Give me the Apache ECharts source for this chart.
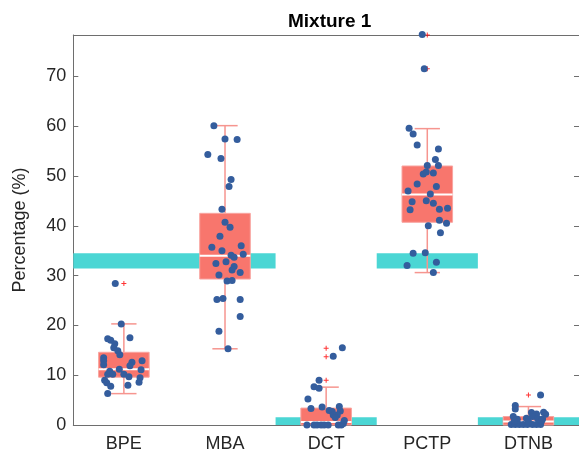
<!DOCTYPE html>
<html>
<head>
<meta charset="utf-8">
<title>Mixture 1</title>
<style>
html, body { margin: 0; padding: 0; background: #fff; }
#container { width: 579px; height: 462px; }
</style>
</head>
<body>
<div id="container"></div>
<script src="https://cdn.jsdelivr.net/npm/echarts@6/dist/echarts.min.js"></script>
<script type="text/javascript">

var categories = ['BPE', 'MBA', 'DCT', 'PCTP', 'DTNB'];

// box stats per category: [x, min, q1, median, q3, max]
var boxStats = [
  [1, 6.3, 9.6, 11.2, 14.6, 20.3],
  [2, 15.3, 29.3, 34.0, 42.5, 60.1],
  [3, 0, 0, 0.6, 3.4, 7.6],
  [4, 30.6, 40.7, 46.3, 52.0, 59.5],
  [5, 0, 0, 0.7, 1.7, 3.7]
];

// cyan reference bands: [x0, x1, low, high]
var bands = [
  [0.5, 2.5, 31.4, 34.5],
  [2.5, 3.5, 0, 1.55],
  [3.5, 4.5, 31.4, 34.5],
  [4.5, 5.5, 0, 1.55]
];

var outliers = [[1, 28.4], [3, 15.4], [3, 13.7], [3, 9.0], [4, 78.3], [4, 71.5], [5, 6.0]];

// jittered samples
var bpePts = [[0.915,28.4],[0.974,20.3],[1.06,17.5],[0.84,17.3],[0.87,17.0],[0.91,16.3],[0.90,15.5],[0.94,14.9],
  [0.96,14.1],[0.80,13.5],[0.80,12.9],[1.08,12.6],[1.18,12.9],[0.80,12.1],[1.06,11.9],[1.17,11.1],[0.955,11.2],
  [0.86,10.8],[0.84,10.2],[0.89,10.2],[1.0,10.2],[1.05,9.7],[1.16,9.5],[0.81,9.0],[0.83,8.5],[1.15,8.6],
  [0.87,7.8],[1.04,8.0],[0.84,6.3]];
var mbaPts = [[1.89,60.1],[2.0,57.4],[2.12,57.3],[1.83,54.3],[1.96,53.5],[2.06,49.3],[2.04,47.9],[1.97,43.3],
  [2.0,40.7],[2.05,39.7],[1.95,37.9],[1.87,35.7],[1.97,35.0],[2.16,36.0],[2.18,34.3],[2.06,34.1],[2.09,33.7],
  [2.01,32.8],[1.91,32.4],[2.09,31.8],[2.07,31.1],[2.15,30.6],[1.94,30.1],[2.02,28.9],[2.07,29.0],[1.92,25.2],
  [1.98,25.4],[2.15,25.2],[2.15,21.8],[1.94,18.8],[2.03,15.3]];
var dctPts = [[3.16,15.5],[3.07,13.8],[2.93,9.0],[2.88,7.7],[2.93,7.4],[2.82,5.2],[2.85,3.3],[2.96,3.6],[3.03,2.9],
  [3.13,3.7],[3.14,2.8],[3.06,2.7],[3.07,2.0],[3.11,2.0],[3.09,1.5],[2.81,0],[2.88,0],[2.91,0],[2.95,0],[2.98,0],
  [3.02,0],[3.12,0],[3.15,0],[3.17,0.3],[3.18,0.9]];
var pctpPts = [[3.95,78.4],[3.97,71.5],[3.82,59.6],[3.86,58.4],[3.90,56.2],[4.11,55.4],[4.08,53.3],[4.0,52.1],
  [4.11,52.1],[3.99,50.8],[3.96,50.4],[4.06,50.6],[3.90,48.4],[4.09,47.9],[3.81,47.0],[4.03,46.4],[3.85,44.8],
  [3.99,45.0],[4.06,44.5],[3.83,43.2],[4.12,43.3],[4.20,43.5],[4.12,41.1],[4.19,40.5],[4.01,40.0],[4.13,38.6],
  [3.86,34.5],[3.98,34.6],[4.09,32.7],[3.80,32.0],[4.06,30.6]];
var dtnbPts = [[5.12,6.0],[4.87,3.9],[4.87,3.2],[5.03,2.5],[5.08,2.2],[5.15,2.55],[5.17,2.15],[4.85,1.7],[5.04,1.7],
  [5.09,1.3],[4.89,1.15],[4.98,1.35],[5.14,1.2],[4.83,0.1],[4.87,0.1],[4.91,0.1],[4.95,0.1],[4.99,0.1],[5.04,0.1],
  [5.08,0.1],[5.12,0.1],[4.86,0.8],[5.0,0.7],[5.13,0.8]];

var yTicks = [0, 10, 20, 30, 40, 50, 60, 70];

var allPts = bpePts.concat(mbaPts, dctPts, pctpPts, dtnbPts);

var boxColor = '#f8766d';
var whiskerColor = '#f6958f';
var axisColor = '#6e6e6e';
var textColor = '#262626';
var fontName = 'Liberation Sans, Arial, Helvetica, sans-serif';

function renderBand(params, api) {
  var p0 = api.coord([api.value(0), api.value(3)]);
  var p1 = api.coord([api.value(1), api.value(2)]);
  return {
    type: 'rect',
    shape: { x: p0[0], y: p0[1], width: p1[0] - p0[0], height: p1[1] - p0[1] },
    style: { fill: '#4bd6d4' }
  };
}

function renderBox(params, api) {
  var x = api.value(0);
  var mn = api.value(1), q1 = api.value(2), med = api.value(3), q3 = api.value(4), mx = api.value(5);
  var bw = 0.25, cw = 0.125;
  var tl = api.coord([x - bw, q3]);
  var br = api.coord([x + bw, q1]);
  var top = api.coord([x, mx]);
  var bot = api.coord([x, mn]);
  var capL = api.coord([x - cw, mx])[0];
  var capR = api.coord([x + cw, mx])[0];
  var medY = api.coord([x, med])[1];
  var ls = { stroke: whiskerColor, lineWidth: 1.5 };
  var children = [];
  if (mx > q3) {
    children.push({ type: 'line', shape: { x1: top[0], y1: top[1], x2: top[0], y2: tl[1] }, style: ls });
    children.push({ type: 'line', shape: { x1: capL, y1: top[1], x2: capR, y2: top[1] }, style: ls });
  }
  if (mn < q1) {
    children.push({ type: 'line', shape: { x1: bot[0], y1: bot[1], x2: bot[0], y2: br[1] }, style: ls });
    children.push({ type: 'line', shape: { x1: capL, y1: bot[1], x2: capR, y2: bot[1] }, style: ls });
  }
  children.push({
    type: 'rect',
    shape: { x: tl[0], y: tl[1], width: br[0] - tl[0], height: br[1] - tl[1] },
    style: { fill: boxColor, stroke: '#f9a5a0', lineWidth: 1 }
  });
  children.push({
    type: 'line',
    shape: { x1: tl[0], y1: medY, x2: br[0], y2: medY },
    style: { stroke: '#ffffff', lineWidth: 2 }
  });
  return { type: 'group', children: children };
}

var myChart = echarts.init(document.getElementById('container'), null, { renderer: 'canvas' });

var option = {
  animation: false,
  title: {
    text: 'Mixture 1',
    left: 283,
    top: 7,
    textStyle: { fontFamily: fontName, fontSize: 19, fontWeight: 'bold', color: '#000' }
  },
  grid: { left: 73.3, right: -2.5, top: 35, bottom: 37, containLabel: false },
  xAxis: [
    {
      type: 'category',
      data: categories,
      position: 'bottom',
      boundaryGap: true,
      axisLine: { lineStyle: { color: axisColor, width: 1 } },
      axisTick: { inside: true, length: 5, alignWithLabel: true, lineStyle: { color: axisColor } },
      axisLabel: { margin: 10, fontFamily: fontName, fontSize: 18, color: textColor },
      splitLine: { show: false }
    },
    {
      type: 'value',
      min: 0.5,
      max: 5.5,
      show: false
    },
    {
      type: 'category',
      data: categories,
      position: 'top',
      boundaryGap: true,
      axisLine: { lineStyle: { color: axisColor, width: 1 } },
      axisTick: { inside: true, length: 5, alignWithLabel: true, lineStyle: { color: axisColor } },
      axisLabel: { show: false },
      splitLine: { show: false }
    }
  ],
  yAxis: [
    {
      type: 'value',
      min: 0,
      max: 78.3,
      interval: 10,
      name: 'Percentage (%)',
      nameLocation: 'middle',
      nameGap: 44,
      nameTextStyle: { fontFamily: fontName, fontSize: 18, color: textColor },
      axisLine: { show: true, lineStyle: { color: axisColor, width: 1 } },
      axisTick: { show: true, inside: true, length: 5, lineStyle: { color: axisColor } },
      axisLabel: {
        margin: 7, fontFamily: fontName, fontSize: 18, color: textColor,
        showMaxLabel: false,
        formatter: function (v) { return yTicks.indexOf(v) >= 0 ? String(v) : ''; }
      },
      splitLine: { show: false }
    },
    {
      type: 'value',
      min: 0,
      max: 78.3,
      interval: 10,
      position: 'right',
      axisLine: { show: true, lineStyle: { color: axisColor, width: 1 } },
      axisTick: { show: true, inside: true, length: 5, lineStyle: { color: axisColor } },
      axisLabel: { show: false },
      splitLine: { show: false }
    }
  ],
  series: [
    {
      type: 'custom',
      name: 'bands',
      xAxisIndex: 1,
      yAxisIndex: 0,
      renderItem: renderBand,
      data: bands,
      z: 1,
      silent: true
    },
    {
      type: 'custom',
      name: 'boxes',
      xAxisIndex: 1,
      yAxisIndex: 0,
      renderItem: renderBox,
      data: boxStats,
      z: 2,
      silent: true
    },
    {
      type: 'scatter',
      name: 'outliers',
      xAxisIndex: 1,
      yAxisIndex: 0,
      data: outliers,
      symbol: 'path://M2,0 L3,0 L3,2 L5,2 L5,3 L3,3 L3,5 L2,5 L2,3 L0,3 L0,2 L2,2 Z',
      symbolSize: 5,
      itemStyle: { color: '#ff0000' },
      clip: false,
      z: 3
    },
    {
      type: 'scatter',
      name: 'samples',
      xAxisIndex: 1,
      yAxisIndex: 0,
      data: allPts,
      symbol: 'circle',
      symbolSize: 7,
      itemStyle: { color: '#345d9d', opacity: 1 },
      clip: false,
      z: 4
    }
  ]
};

if (option && typeof option === "object") {
  myChart.setOption(option, true);
}
</script>
</body>
</html>
